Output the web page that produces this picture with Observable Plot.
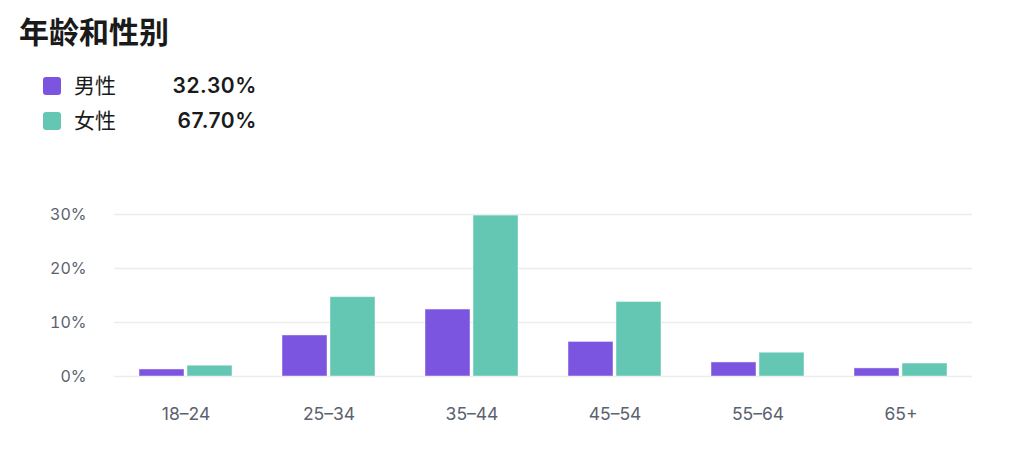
<!DOCTYPE html>
<html>
<head>
<meta charset="utf-8">
<script src="https://cdn.jsdelivr.net/npm/d3@7"></script>
<script src="https://cdn.jsdelivr.net/npm/@observablehq/plot@0.6"></script>
<style>
  html, body { margin: 0; padding: 0; background: #fff; }
  body { width: 1024px; height: 464px; position: relative; overflow: hidden;
         font-family: Inter, "Noto Sans CJK SC", sans-serif; }
  #title { position: absolute; left: 19px; top: 10px; font-size: 30px; line-height: 40px;
           font-weight: bold; color: #1a1a1a; font-family: "Noto Sans CJK SC", sans-serif; }
  .row { position: absolute; left: 0; height: 30px; line-height: 30px; width: 300px; }
  .sw { position: absolute; left: 43px; top: 6px; width: 18px; height: 18px; border-radius: 3px; }
  .lab { position: absolute; left: 74px; top: -2px; font-size: 21px; color: #1a1a1a;
         font-family: "Noto Sans CJK SC", sans-serif; }
  .val { position: absolute; left: 130px; width: 127px; text-align: right; top: 0;
         font-size: 21px; font-weight: 600; color: #1a1a1a; letter-spacing: 0.6px;
         font-family: Inter, sans-serif; }
  #chart { position: absolute; left: 0; top: 180px; }
</style>
</head>
<body>
<div id="title"></div>
<div id="legend"></div>
<div id="chart"></div>
<script>
const titleText = "年龄和性别";
const ages = ["18-24", "25-34", "35-44", "45-54", "55-64", "65+"];
const genders = ["男性", "女性"];
const genderShares = ["32.30%", "67.70%"];
const colors = ["#7B55DF", "#64C7B4"];
const maleValues = [1.3, 7.6, 12.4, 6.4, 2.6, 1.5];
const femaleValues = [2.0, 14.7, 29.8, 13.8, 4.4, 2.4];
const yTicks = [0, 10, 20, 30];

document.getElementById("title").textContent = titleText;
const legend = document.getElementById("legend");
const rowTops = [71, 106];
genders.forEach((g, i) => {
  const row = document.createElement("div");
  row.className = "row";
  row.style.top = rowTops[i] + "px";
  row.innerHTML = `<span class="sw" style="background:${colors[i]}"></span><span class="lab">${g}</span><span class="val">${genderShares[i]}</span>`;
  legend.appendChild(row);
});

const data = [];
ages.forEach((a, i) => {
  data.push({age: a, gender: genders[0], value: maleValues[i]});
  data.push({age: a, gender: genders[1], value: femaleValues[i]});
});

const axisFont = "Inter, 'Noto Sans CJK SC', sans-serif";
const chart = Plot.plot({
  width: 1024,
  height: 284,
  marginLeft: 114,
  marginRight: 52,
  marginTop: 34,
  marginBottom: 88,
  style: {fontFamily: axisFont, background: "transparent"},
  fx: {domain: ages, padding: 0, label: null},
  x: {domain: genders, axis: null, paddingInner: 0.0625, paddingOuter: 0.52},
  y: {domain: [0, 30], label: null},
  color: {domain: genders, range: colors},
  marks: [
    Plot.gridY(yTicks, {stroke: "#ececec", strokeOpacity: 1, strokeWidth: 1.5}),
    Plot.axisY(yTicks, {tickSize: 0, tickPadding: 28, tickFormat: d => d + "%", label: null,
                        fontSize: 16, fill: "#5b6270"}),
    Plot.axisFx({anchor: "bottom", tickSize: 0, tickPadding: 31, label: null,
                 tickFormat: d => d.replace("-", "–"), fontSize: 17.5, fill: "#5b6270"}),
    Plot.barY(data, {fx: "age", x: "gender", y: "value", fill: "gender",
                     stroke: "#ffffff", strokeOpacity: 0.45, strokeWidth: 1})
  ]
});
document.getElementById("chart").appendChild(chart);
</script>
</body>
</html>
